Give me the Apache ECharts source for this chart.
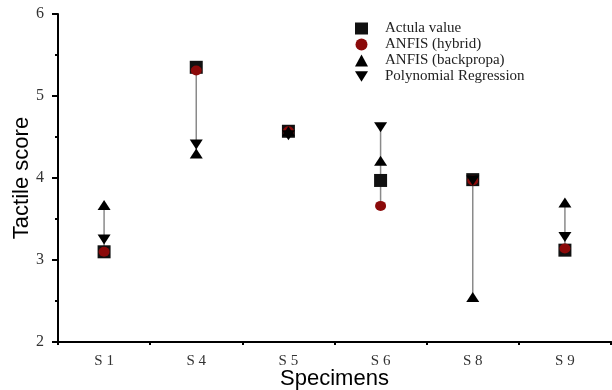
<!DOCTYPE html>
<html>
<head>
<meta charset="utf-8">
<script src="https://cdn.jsdelivr.net/npm/echarts@6/dist/echarts.min.js"></script>
<style>
  html, body { margin: 0; padding: 0; background: #fff; }
  #chart { width: 612px; height: 390px; }
</style>
</head>
<body>
<div id="chart"></div>
<script>
// Specimens and tactile scores per method
const specimens = ['S 1', 'S 4', 'S 5', 'S 6', 'S 8', 'S 9'];
const actualValue = [3.10, 5.35, 4.57, 3.97, 3.98, 3.12];
const anfisHybrid = [3.10, 5.31, 4.57, 3.66, 3.97, 3.14];
const anfisBackprop = [3.67, 4.30, 4.57, 4.21, 2.55, 3.70];
const polyRegression = [3.25, 4.41, 4.52, 4.62, 3.97, 3.28];
const yTicks = { min: 2, max: 6, interval: 1 };

// Vertical range line per specimen spanning all four scores
const rangeData = specimens.map((_, i) => {
  const vals = [actualValue[i], anfisHybrid[i], anfisBackprop[i], polyRegression[i]];
  return [i, Math.min.apply(null, vals), Math.max.apply(null, vals)];
});

const serif = '"Liberation Serif", "DejaVu Serif", serif';
const sans = '"Liberation Sans", Arial, sans-serif';
const downTriangle = 'path://M0,0 L10,0 L5,8 Z';

const chart = echarts.init(document.getElementById('chart'));
chart.setOption({
  animation: false,
  backgroundColor: '#fff',
  grid: { left: 58, right: 1, top: 14, bottom: 48, containLabel: false, outerBoundsMode: 'none' },
  legend: {
    data: ['Actula value', 'ANFIS (hybrid)', 'ANFIS (backpropa)', 'Polynomial Regression'],
    orient: 'vertical',
    left: 350,
    top: 16,
    itemWidth: 13,
    itemHeight: 12,
    itemGap: 1,
    symbolKeepAspect: true,
    textStyle: { fontFamily: serif, fontSize: 15, color: '#222', lineHeight: 12, padding: [0, 0, 0, 12] }
  },
  xAxis: [
    {
      type: 'category',
      data: specimens,
      boundaryGap: true,
      axisLine: { lineStyle: { color: '#000', width: 2 } },
      axisTick: { alignWithLabel: true, length: 6, lineStyle: { color: '#000', width: 2 } },
      axisLabel: { fontFamily: serif, fontSize: 15, color: '#333', margin: 12 },
      name: 'Specimens',
      nameLocation: 'middle',
      nameMoveOverlap: false,
      nameGap: 26,
      nameTextStyle: { fontFamily: sans, fontSize: 22, color: '#000' }
    },
    {
      type: 'category',
      data: specimens,
      position: 'bottom',
      boundaryGap: true,
      axisLine: { show: true, lineStyle: { color: '#000', width: 2 } },
      axisTick: { show: true, alignWithLabel: false, length: 3, lineStyle: { color: '#000', width: 2 } },
      axisLabel: { show: false }
    }
  ],
  yAxis: {
    type: 'value',
    min: yTicks.min,
    max: yTicks.max,
    interval: yTicks.interval,
    splitLine: { show: false },
    axisLine: { show: true, lineStyle: { color: '#000', width: 2 } },
    axisTick: { show: true, length: 6, lineStyle: { color: '#000', width: 2 } },
    minorTick: { show: true, splitNumber: 2, length: 3, lineStyle: { color: '#000', width: 2 } },
    axisLabel: { fontFamily: serif, fontSize: 16, color: '#333', margin: 14 },
    name: 'Tactile score',
    nameLocation: 'middle',
    nameMoveOverlap: false,
    nameGap: 25,
    nameTextStyle: { fontFamily: sans, fontSize: 22, color: '#000' }
  },
  series: [
    {
      type: 'custom',
      name: 'range',
      data: rangeData,
      z: 1,
      silent: true,
      renderItem: function (params, api) {
        const p1 = api.coord([api.value(0), api.value(1)]);
        const p2 = api.coord([api.value(0), api.value(2)]);
        return {
          type: 'line',
          shape: { x1: p1[0], y1: p1[1], x2: p2[0], y2: p2[1] },
          style: { stroke: '#8a8a8a', lineWidth: 1.5 }
        };
      }
    },
    {
      type: 'scatter', name: 'Actula value', data: actualValue,
      symbol: 'rect', symbolSize: 13, z: 2,
      itemStyle: { color: '#111', opacity: 1 }
    },
    {
      type: 'scatter', name: 'ANFIS (hybrid)', data: anfisHybrid,
      symbol: 'circle', symbolSize: [11, 10], z: 3,
      itemStyle: { color: '#8b0a0a', opacity: 1 }
    },
    {
      type: 'scatter', name: 'ANFIS (backpropa)', data: anfisBackprop,
      symbol: 'triangle', symbolSize: [13, 10], z: 4,
      itemStyle: { color: '#000', opacity: 1 }
    },
    {
      type: 'scatter', name: 'Polynomial Regression', data: polyRegression,
      symbol: downTriangle, symbolSize: [13, 10], z: 5,
      itemStyle: { color: '#000', opacity: 1 }
    }
  ]
});
</script>
</body>
</html>
